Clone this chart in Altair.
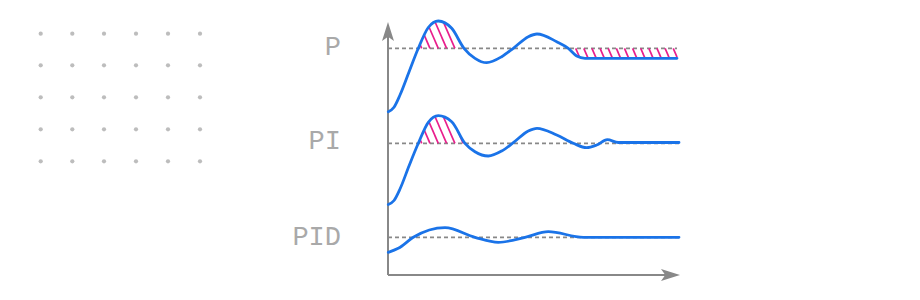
import numpy as np
import pandas as pd
import altair as alt

W, H = 920, 300

DOT_COLS = [40.7, 72.3, 104.0, 136.0, 168.0, 200.0]
DOT_ROWS = [33.7, 65.3, 97.3, 129.3, 161.3]

CONTROLLERS = ["P", "PI", "PID"]
SETPOINT = [48.4, 143.3, 237.3]
LABEL_BASE = [54.5, 148.5, 245.0]

P_X = [388.3, 394.0, 400.0, 409.0, 418.3, 428.3, 438.3, 451.7, 464.0, 475.0, 486.7,
       501.7, 513.3, 528.3, 537.0, 556.7, 568.3, 576.7, 585.0, 677.0]
P_Y = [111.7, 107.2, 95.0, 72.0, 48.3, 27.5, 21.0, 28.3, 48.3, 58.3, 62.7,
       56.7, 48.3, 36.7, 34.0, 41.7, 48.3, 56.0, 58.3, 58.3]

PI_X = [388.3, 394.0, 400.0, 409.0, 418.3, 428.3, 438.3, 451.7, 465.0, 475.0, 488.3,
        501.7, 513.3, 528.3, 537.0, 556.7, 573.3, 586.7, 596.7, 607.3, 618.3, 679.0]
PI_Y = [204.5, 200.5, 189.0, 166.0, 143.3, 122.3, 115.7, 121.7, 143.3, 151.7, 156.0,
        151.0, 142.7, 131.0, 128.3, 135.0, 143.3, 147.7, 145.0, 139.7, 142.5, 142.5]

PID_X = [388.3, 398.3, 413.3, 445.0, 475.0, 498.3, 525.0, 548.3, 583.3, 679.0]
PID_Y = [252.3, 248.3, 237.3, 227.7, 237.3, 242.3, 237.3, 231.7, 237.3, 237.3]

CURVES = {"P": (P_X, P_Y), "PI": (PI_X, PI_Y), "PID": (PID_X, PID_Y)}

# axes
ORIGIN_X, ORIGIN_Y = 388.0, 275.0
X_TIP, Y_TIP = 680.0, 22.0

# hatch pattern
HATCH_SLOPE = 2.3
HATCH_GAP = 8.3

# ---------------- styles ----------------
BLUE = "#1a73e8"
PINK = "#e91e8c"
GREY = "#888888"
DOT = "#bdbdbd"
LABEL = "#a9a9a9"


def monotone(xs, ys):
    """Same cubic as d3.curveMonotoneX, to place the hatch inside the curve."""
    xs = np.asarray(xs, float)
    ys = np.asarray(ys, float)
    n = len(xs)
    h = np.diff(xs)
    s = np.diff(ys) / h
    t = np.zeros(n)
    for i in range(1, n - 1):
        h0, h1, s0, s1 = h[i - 1], h[i], s[i - 1], s[i]
        p = (s0 * h1 + s1 * h0) / (h0 + h1)
        sg = (-1 if s0 < 0 else 1) + (-1 if s1 < 0 else 1)
        t[i] = sg * min(abs(s0), abs(s1), 0.5 * abs(p))
    t[0] = (3 * s[0] - t[1]) / 2
    t[-1] = (3 * s[-1] - t[-2]) / 2

    def f(x):
        i = int(np.clip(np.searchsorted(xs, x) - 1, 0, n - 2))
        x0, x1 = xs[i], xs[i + 1]
        dx = (x1 - x0) / 3
        u = (x - x0) / (x1 - x0)
        y0, y1 = ys[i], ys[i + 1]
        c1, c2 = y0 + dx * t[i], y1 - dx * t[i + 1]
        return (1 - u) ** 3 * y0 + 3 * (1 - u) ** 2 * u * c1 + 3 * (1 - u) * u ** 2 * c2 + u ** 3 * y1

    return f


def hatch_over(f, sp, x_from, x_to):
    segs = []
    xb = x_from
    while xb <= x_to:
        if f(xb) < sp:
            x = xb
            while True:
                xn = x - 0.02
                if f(xn) >= sp - HATCH_SLOPE * (xb - xn):
                    break
                x = xn
            segs.append((xb, sp, x, sp - HATCH_SLOPE * (xb - x)))
        xb += HATCH_GAP
    return segs


def hatch_under(f, sp, x_from, x_end, gap):
    segs = []
    xa = x_from
    while xa < x_end:
        if f(xa) > sp:
            x = xa
            while x < x_end:
                xn = x + 0.02
                if sp + HATCH_SLOPE * (xn - xa) >= f(xn):
                    break
                x = xn
            segs.append((xa, sp, x, sp + HATCH_SLOPE * (x - xa)))
        xa += gap
    return segs


fP = monotone(P_X, P_Y)
fPI = monotone(PI_X, PI_Y)
segs = []
segs += hatch_over(fP, SETPOINT[0], 421.7, 470)
segs += hatch_over(fPI, SETPOINT[1], 421.7, 470)
segs += hatch_under(fP, SETPOINT[0], 575.7, P_X[-1], 8.13)
hatch = pd.DataFrame(segs, columns=["x", "y", "x2", "y2"])

dots = pd.DataFrame([(c, r) for r in DOT_ROWS for c in DOT_COLS], columns=["x", "y"])
labels = pd.DataFrame({"name": CONTROLLERS, "x": [341] * 3, "y": LABEL_BASE})
curves = pd.DataFrame(
    [(k, i, x, y) for k, (xs, ys) in CURVES.items() for i, (x, y) in enumerate(zip(xs, ys))],
    columns=["ctrl", "i", "x", "y"],
)
setp = pd.DataFrame({
    "ctrl": CONTROLLERS,
    "x": [ORIGIN_X] * 3,
    "x2": [CURVES[k][0][-1] for k in CONTROLLERS],
    "y": SETPOINT,
})

ARROW_LEN = 19.0
axes_df = pd.DataFrame({
    "x": [ORIGIN_X, ORIGIN_X],
    "y": [ORIGIN_Y, ORIGIN_Y],
    "x2": [ORIGIN_X, X_TIP - ARROW_LEN * 0.6],
    "y2": [Y_TIP + ARROW_LEN * 0.6, ORIGIN_Y],
})
arrow_up = pd.DataFrame({"x": [ORIGIN_X], "y": [Y_TIP + ARROW_LEN / 2]})
arrow_right = pd.DataFrame({"x": [X_TIP - ARROW_LEN / 2], "y": [ORIGIN_Y]})

xs = alt.Scale(domain=[0, W], nice=False, zero=False)
ys = alt.Scale(domain=[0, H], nice=False, zero=False, reverse=True)
X = lambda f="x": alt.X(f"{f}:Q", scale=xs, axis=None)
Y = lambda f="y": alt.Y(f"{f}:Q", scale=ys, axis=None)

l_dots = alt.Chart(dots).mark_circle(size=18, color=DOT, opacity=1).encode(x=X(), y=Y())
l_labels = alt.Chart(labels).mark_text(
    align="right", baseline="alphabetic", font="Liberation Mono", fontSize=27, color=LABEL
).encode(x=X(), y=Y(), text="name:N")
l_axes = alt.Chart(axes_df).mark_rule(color=GREY, strokeWidth=2).encode(
    x=X(), y=Y(), x2="x2:Q", y2="y2:Q"
)
l_up = alt.Chart(arrow_up).mark_point(
    shape="M0,-1L-0.63,1L0,0.55L0.63,1Z", size=ARROW_LEN ** 2, filled=True, opacity=1,
    color=GREY, strokeWidth=0
).encode(x=X(), y=Y())
l_right = alt.Chart(arrow_right).mark_point(
    shape="M1,0L-1,-0.63L-0.55,0L-1,0.63Z", size=ARROW_LEN ** 2, filled=True, opacity=1,
    color=GREY, strokeWidth=0
).encode(x=X(), y=Y())
l_set = alt.Chart(setp).mark_rule(color=GREY, strokeWidth=1.8, strokeDash=[4, 3]).encode(
    x=X(), x2="x2:Q", y=Y(), detail="ctrl:N"
)
l_hatch = alt.Chart(hatch).mark_rule(color=PINK, strokeWidth=1.7).encode(
    x=X(), y=Y(), x2="x2:Q", y2="y2:Q"
)
l_curves = alt.Chart(curves).mark_line(
    interpolate="monotone", color=BLUE, strokeWidth=2.8, strokeCap="round"
).encode(x=X(), y=Y(), detail="ctrl:N", order="i:Q")

chart = alt.layer(
    l_dots, l_labels, l_axes, l_up, l_right, l_set, l_hatch, l_curves
).properties(
    width=W, height=H, autosize=alt.AutoSizeParams(type="none"), padding=0,
    background="white"
).configure_view(stroke=None)

chart.save("out.html", embed_options={"renderer": "svg", "actions": False})
